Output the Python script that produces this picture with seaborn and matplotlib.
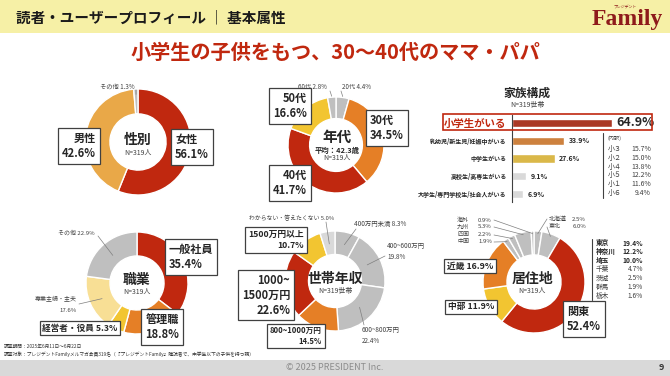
import numpy as np
import matplotlib
matplotlib.use('Agg')
import matplotlib.pyplot as plt
import matplotlib.patches as mpatches
import seaborn as sns

# ---------------- data ----------------
sex_labels = ['女性', '男性', 'その他']
sex_values = [56.1, 42.6, 1.3]

age_labels = ['20代', '30代', '40代', '50代', '60代']
age_values = [4.4, 34.5, 41.7, 16.6, 2.8]

job_labels = ['一般社員', '管理職', '経営者・役員', '専業主婦・主夫', 'その他']
job_values = [35.4, 18.8, 5.3, 17.6, 22.9]

inc_labels = ['400万円未満', '400~600万円', '600~800万円', '800~1000万円',
              '1000~1500万円', '1500万円以上', 'わからない・答えたくない']
inc_values = [8.3, 19.8, 22.4, 14.5, 22.6, 10.7, 5.0]

reg_labels = ['北海道', '東北', '関東', '中部', '近畿', '中国', '四国', '九州', '海外']
reg_values = [2.5, 6.0, 52.4, 11.9, 16.9, 1.9, 2.2, 5.3, 0.9]

fam_labels = ['小学生がいる', '乳幼児/新生児/妊娠中がいる', '中学生がいる',
              '高校生/高専生がいる', '大学生/専門学校生/社会人がいる']
fam_values = [64.9, 33.9, 27.6, 9.1, 6.9]

grade_labels = ['小３', '小２', '小４', '小５', '小１', '小６']
grade_values = [15.7, 15.0, 13.8, 12.2, 11.6, 9.4]

kanto_labels = ['東京', '神奈川', '埼玉', '千葉', '茨城', '群馬', '栃木']
kanto_values = [19.4, 12.2, 10.0, 4.7, 2.5, 1.9, 1.6]

# ---------------- style ----------------
RED = '#c0280f'
ORANGE = '#e57f26'
YELLOW = '#f2c531'
LYELLOW = '#f8df95'
TAN = '#e9a848'
GRAY = '#bfbfbf'
LGRAY = '#d9d9d9'
DARK = '#262626'
LINE = '#7f7f7f'

sns.set_style('white')
plt.rcParams['font.family'] = ['Noto Sans CJK JP', 'DejaVu Sans']

W, H = 670, 376
fig = plt.figure(figsize=(6.7, 3.76), dpi=100)
fig.patch.set_facecolor('white')


def fx(x):
    return x / W


def fy(y):
    return 1 - y / H


def txt(x, y, s, **kw):
    kw.setdefault('ha', 'center')
    kw.setdefault('va', 'center')
    return fig.text(fx(x), fy(y), s, **kw)


def box(x, y, s, size=8, ma='center', ha='center', pad=0.35):
    return txt(x, y, s, fontsize=size, fontweight='bold', color=DARK, ha=ha,
               multialignment=ma, linespacing=1.2,
               bbox=dict(boxstyle=f'square,pad={pad}', fc='white', ec='#404040', lw=0.9))


def donut(cx, cy, r, values, colors, width=0.47):
    ax = fig.add_axes([fx(cx - r), fy(cy + r), 2 * r / W, 2 * r / H])
    wedges, _ = ax.pie(values, colors=colors, startangle=90, counterclock=False, radius=1,
                       wedgeprops=dict(width=width, edgecolor='white', linewidth=1))
    ax.set_xlim(-1, 1)
    ax.set_ylim(-1, 1)
    ax.set_aspect('equal')
    ax.axis('off')
    return ax, wedges


def leader(ax, wedge, rr, x, y):
    ang = np.deg2rad((wedge.theta1 + wedge.theta2) / 2)
    ax.annotate('', xy=(rr * np.cos(ang), rr * np.sin(ang)), xytext=(x, H - y),
                textcoords='figure pixels', annotation_clip=False,
                arrowprops=dict(arrowstyle='-', color=LINE, lw=0.5, shrinkA=0, shrinkB=0))


def small(x, y, s, ha='left', size=4.8, color='#404040', **kw):
    return txt(x, y, s, ha=ha, fontsize=size, color=color, **kw)


# ---------------- header / footer ----------------
fig.add_artist(mpatches.Rectangle((0, fy(33)), 1, 33 / H, transform=fig.transFigure,
                                  fc='#f6f0a6', ec='none', zorder=0))
txt(16, 17, '読者・ユーザープロフィール ｜ 基本属性', ha='left', fontsize=10.5,
    fontweight='bold', color='#1a1a1a')
txt(663, 19, 'Family', ha='right', fontsize=17, fontweight='bold',
    family='Liberation Serif', color='#8e1b1b')
txt(625, 6, 'プレジデント', fontsize=2.8, color='#8e1b1b')
txt(335, 52, '小学生の子供をもつ、30～40代のママ・パパ', fontsize=14.5,
    fontweight='bold', color=RED)

fig.add_artist(mpatches.Rectangle((0, 0), 1, 16 / H, transform=fig.transFigure,
                                  fc=LGRAY, ec='none', zorder=0))
txt(335, 368, '© 2025 PRESIDENT Inc.', fontsize=6.5, color='#8c8c8c')
txt(661, 367, '9', fontsize=6.5, fontweight='bold', color='#333333')
small(4, 346, '調査期間：2025年6月11日～6月22日', size=3.4, color='#333333')
small(4, 354, '調査対象：プレジデントFamilyメルマガ会員319名（『プレジデントFamily』購読者で、中学生以下の子供を持つ親）',
      size=3.4, color='#333333')

# ---------------- 性別 ----------------
ax, w = donut(138, 142, 53, sex_values, [RED, TAN, GRAY])
txt(138, 140, '性別', fontsize=10, fontweight='bold', color=DARK)
txt(138, 153, 'N=319人', fontsize=5, color='#404040')
box(192, 147, '女性\n56.1%', ma='left')
box(79, 146, '男性\n42.6%', ma='right')
small(100, 87, 'その他 1.3%', size=4.5)
leader(ax, w[2], 0.9, 136, 90)

# ---------------- 年代 ----------------
ax, w = donut(336, 145, 48, age_values, [GRAY, ORANGE, RED, YELLOW, GRAY], width=0.45)
txt(337, 137, '年代', fontsize=10.5, fontweight='bold', color=DARK)
txt(337, 150, '平均：42.3歳', fontsize=5.3, fontweight='bold', color=DARK)
txt(337, 158, 'N=319人', fontsize=5, color='#404040')
box(387, 128, '30代\n34.5%', ma='left')
box(290, 106, '50代\n16.6%', ma='right')
box(290, 183, '40代\n41.7%', ma='right')
small(312, 87, '60代 2.8%', ha='center', size=4.5)
small(357, 87, '20代 4.4%', ha='center', size=4.5)
leader(ax, w[4], 1.02, 330, 91)
leader(ax, w[0], 1.02, 341, 91)

# ---------------- 職業 ----------------
ax, w = donut(137, 283, 51, job_values, [RED, ORANGE, YELLOW, LYELLOW, GRAY])
txt(137, 280, '職業', fontsize=10, fontweight='bold', color=DARK)
txt(137, 292, 'N=319人', fontsize=5, color='#404040')
box(191, 257, '一般社員\n35.4%', ma='left')
box(162, 327, '管理職\n18.8%', ma='center')
box(80, 328, '経営者・役員 5.3%', size=6.2, pad=0.3)
small(58, 233, 'その他 22.9%', size=4.3)
leader(ax, w[4], 0.72, 98, 236)
small(77, 298, '専業主婦・主夫', ha='right', size=4.3)
small(77, 310, '17.6%', ha='right', size=4.3)
leader(ax, w[3], 0.75, 79, 304)

# ---------------- 世帯年収 ----------------
ax, w = donut(335, 281, 50, inc_values,
              [GRAY, GRAY, GRAY, ORANGE, RED, YELLOW, LGRAY])
txt(335, 279, '世帯年収', fontsize=10, fontweight='bold', color=DARK)
txt(335, 291, 'N=319世帯', fontsize=5, color='#404040')
box(276, 240, '1500万円以上\n10.7%', size=6.3, ma='right')
box(266, 295, '1000~\n1500万円\n22.6%', size=8, ma='right')
box(296, 336, '800~1000万円\n14.5%', size=5.5, ma='right')
small(292, 218, 'わからない・答えたくない 5.0%', ha='center', size=4.2)
leader(ax, w[6], 0.75, 326, 222)
small(354, 224, '400万円未満 8.3%', size=4.6)
leader(ax, w[0], 0.75, 356, 229)
small(387, 246, '400~600万円', size=4.6)
small(387, 257, '19.8%', size=4.6)
leader(ax, w[1], 0.72, 385, 256)
small(362, 330, '600~800万円', size=4.6)
small(362, 341, '22.4%', size=4.6)
leader(ax, w[2], 0.72, 364, 325)

# ---------------- 居住地 ----------------
ax, w = donut(534, 282, 51, reg_values,
              [GRAY, GRAY, RED, YELLOW, ORANGE, GRAY, GRAY, GRAY, GRAY])
txt(532, 279, '居住地', fontsize=10, fontweight='bold', color=DARK)
txt(532, 291, 'N=319人', fontsize=5, color='#404040')
box(470, 266, '近畿 16.9%', size=6.3, pad=0.3)
box(471, 307, '中部 11.9%', size=6.3, pad=0.3)
box(584, 319, '関東\n52.4%', ma='left')
left_items = [(8, 220), (7, 227), (6, 235), (5, 242)]
for idx, yy in left_items:
    small(457, yy, reg_labels[idx], size=4.3)
    small(492, yy, f'{reg_values[idx]:.1f}%', ha='right', size=4.3)
    leader(ax, w[idx], 0.95, 494, yy)
for idx, yy in [(0, 219), (1, 227)]:
    small(549, yy, reg_labels[idx], size=4.3)
    small(586, yy, f'{reg_values[idx]:.1f}%', ha='right', size=4.3)
    leader(ax, w[idx], 0.95, 547, yy)
fig.add_artist(plt.Line2D([fx(592), fx(592)], [fy(239), fy(300)], color='#404040', lw=0.8))
for i, (lab, v) in enumerate(zip(kanto_labels, kanto_values)):
    yy = 243 + i * 8.8
    wt = 'bold' if i < 3 else 'normal'
    col = DARK if i < 3 else '#404040'
    small(596, yy, lab, size=4.8, fontweight=wt, color=col)
    small(643, yy, f'{v:.1f}%', ha='right', size=4.8, fontweight=wt, color=col)

# ---------------- 家族構成 (bar) ----------------
txt(527, 93, '家族構成', fontsize=8.5, fontweight='bold', color=DARK)
txt(527, 105, 'N=319世帯', fontsize=5, color='#404040')
bx0, bx1 = 512, 666
by0, by1 = 114, 203
bax = fig.add_axes([fx(bx0), fy(by1), (bx1 - bx0) / W, (by1 - by0) / H])
fam_colors = [RED, ORANGE, YELLOW, LGRAY, LGRAY]
sns.barplot(x=fam_values, y=fam_labels, hue=fam_labels, palette=fam_colors,
            legend=False, orient='h', width=0.45, dodge=False, ax=bax)
bax.set_xlim(0, 100)
bax.set_ylim(4.5, -0.5)
bax.set_xticks([])
bax.set_xlabel('')
bax.set_ylabel('')
bax.set_facecolor('none')
for s in ['top', 'right', 'bottom']:
    bax.spines[s].set_visible(False)
bax.spines['left'].set_color('#404040')
bax.spines['left'].set_linewidth(0.8)
bax.spines['left'].set_bounds(-0.45, 4.45)
bax.tick_params(axis='y', length=0, pad=4)
for i, t in enumerate(bax.get_yticklabels()):
    t.set_fontweight('bold')
    if i == 0:
        t.set_fontsize(7.5)
        t.set_color(RED)
    else:
        t.set_fontsize(4.3)
        t.set_color(DARK)
for i, v in enumerate(fam_values):
    if i == 0:
        bax.text(v + 3, i, f'{v}%', va='center', ha='left', fontsize=9,
                 fontweight='bold', color=DARK)
    else:
        bax.text(v + 3, i, f'{v}%', va='center', ha='left', fontsize=5,
                 fontweight='bold', color=DARK)
fig.add_artist(mpatches.Rectangle((fx(443), fy(130)), (652 - 443) / W, 16 / H,
                                  transform=fig.transFigure, fc='none', ec=RED, lw=1.2))
fig.add_artist(plt.Line2D([fx(603), fx(603)], [fy(133), fy(198)], color='#404040', lw=0.8))
small(607, 138, '(内訳)', size=3.8)
for i, (lab, v) in enumerate(zip(grade_labels, grade_values)):
    yy = 149 + i * 8.8
    small(608, yy, lab, size=5, color='#404040')
    small(651, yy, f'{v:.1f}%', ha='right', size=5, color='#404040')

fig.savefig('out.png', dpi=100)
